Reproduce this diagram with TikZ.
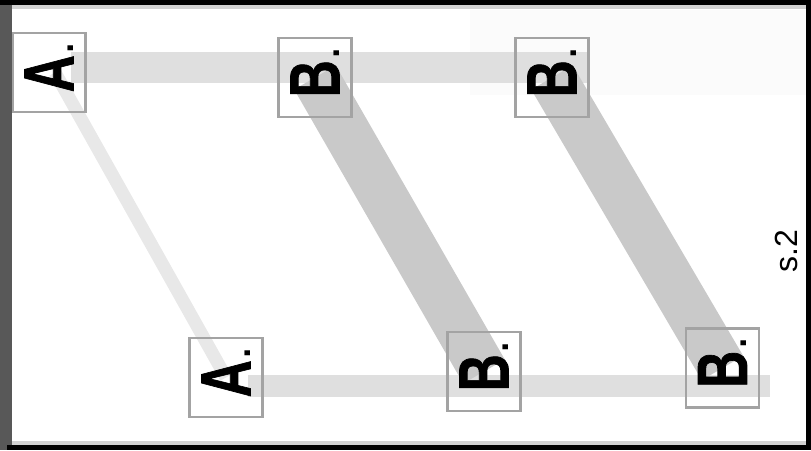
\documentclass[tikz,border=0pt]{standalone}
\usepackage{graphicx}
\usepackage{fontspec}
\setmainfont{Liberation Sans}
\newfontfamily\heavyfont[FakeBold=1.3]{Liberation Sans Bold}
\usetikzlibrary{backgrounds}
\definecolor{framegray}{HTML}{585858}
\definecolor{rimgray}{HTML}{D2D2D2}
\definecolor{boxgray}{HTML}{A3A3A3}
\definecolor{lightband}{HTML}{DFDFDF}
\definecolor{paleband}{HTML}{E8E8E8}
\definecolor{darkband}{HTML}{C9C9C9}
\definecolor{haze}{HTML}{FBFBFB}
\newcommand{\atomlabel}[1]{\hspace*{12pt}\scalebox{0.72}[1]{\fontsize{71}{71}\heavyfont #1}\fontsize{52}{52}\selectfont.}
\begin{document}
\begin{tikzpicture}[x=1pt, y=-1pt,
		atombox/.style={draw=boxgray, line width=2.5pt, rotate=90, minimum width=79pt, minimum height=73pt, inner sep=0pt},
		thinband/.style={paleband, line width=13pt},
		flatband/.style={lightband},
		wideband/.style={darkband, line width=48pt}]
	\useasboundingbox (0,0) rectangle (811,450);

	\node[atombox] (a1) at (49,72.5) {\atomlabel{A}};
	\node[atombox] (b1) at (315,77.5) {\atomlabel{B}};
	\node[atombox] (b2) at (552,77.5) {\atomlabel{B}};
	\node[atombox] (a2) at (226,377.5) {\atomlabel{A}};
	\node[atombox] (b3) at (484,371.5) {\atomlabel{B}};
	\node[atombox] (b4) at (722.5,368) {\atomlabel{B}};

	\node[rotate=90, inner sep=0pt, font=\fontsize{32}{32}\selectfont] (tag) at (786,251) {s.2};

	\begin{pgfonlayer}{background}
		\fill[haze] (470,10) rectangle (806,95);
		\draw[thinband] ([xshift=6pt]a1.center) -- (a2.center);
		\draw[flatband, line width=31pt] ([xshift=22pt, yshift=5pt]a1.center) -- ([xshift=35pt, yshift=10pt]b2.center);
		\draw[flatband, line width=22pt] ([xshift=22pt, yshift=-8.5pt]a2.center) -- ([xshift=47.5pt, yshift=-18pt]b4.center);
		\draw[wideband] (b1.center) -- (b3.center);
		\draw[wideband] (b2.center) -- (b4.center);
	\end{pgfonlayer}

	% frame
	\fill[framegray] (0,0) rectangle (12,450);
	\fill[black] (0,0) rectangle (811,5);
	\fill[rimgray] (12,5) rectangle (806,9);
	\fill[black] (806,0) rectangle (811,450);
	\fill[rimgray] (12,441) rectangle (806,445);
	\fill[black] (7,445) rectangle (811,450);
\end{tikzpicture}
\end{document}
